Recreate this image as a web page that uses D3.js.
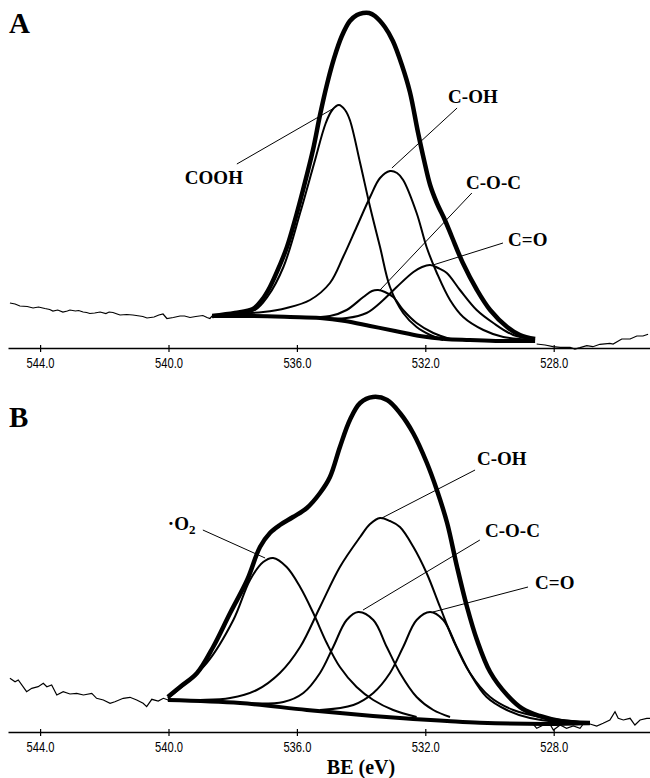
<!DOCTYPE html>
<html>
<head>
<meta charset="utf-8">
<script src="https://cdn.jsdelivr.net/npm/d3@7"></script>
<style>
  body { margin: 0; background: #fff; }
  svg { display: block; }
</style>
</head>
<body>
<div id="chart"></div>
<script>
  //=========================================================================
  // Data: binding energy (eV), intensity (a.u.)
  //=========================================================================

  const tickValues = [544, 540, 536, 532, 528];

  // ---- panel A ----
  const aRawLeft = [[544.94,45],[544.78,44],[544.63,42],[544.40,41.5],[544.22,40],[544.05,41],[543.85,39.5],
    [543.70,38.5],[543.60,37],[543.45,38],[543.29,36],[543.15,37],[543.07,38],[542.90,37],[542.80,37.5],
    [542.66,36],[542.55,35.5],[542.45,34.5],[542.30,35],[542.13,36],[541.95,34.5],[541.85,36],[541.73,35.5],
    [541.60,34],[541.51,33],[541.30,33.5],[541.11,33],[540.90,32],[540.80,31.5],[540.67,30],[540.45,31],
    [540.30,33],[540.17,34],[540.05,29.5],[539.85,30.5],[539.64,32],[539.50,32],[539.33,30.5],[539.15,31.5],
    [538.93,32.5],[538.80,30.5],[538.71,29.5],[538.64,32]];
  const aRawRight = [[528.53,4],[528.27,3],[528.02,1.3],[527.80,0.7],[527.49,0.7],[527.34,-1],[527.18,0.3],
    [526.97,2.3],[526.78,1.3],[526.56,3.7],[526.25,4.7],[526.15,4],[525.88,9],[525.62,9],[525.41,12],
    [525.22,12],[525.06,13.7]];
  const aBackground = [[538.64,32],[537.46,32],[536.21,31],[535.28,30],[534.50,27],[533.72,22],[532.94,17],
    [532.17,12],[531.39,9],[530.61,8],[529.67,7],[528.58,7]];
  const aEnvelope = [[538.64,32],[537.93,35],[537.37,39],[537.09,48],[536.84,61],[536.53,83],[536.31,101],
    [536.06,128],[535.81,158],[535.50,198],[535.28,233],[535.06,264],[534.84,290],[534.60,312],[534.35,327],
    [534.13,333],[533.94,335],[533.75,335],[533.57,332],[533.26,321],[533.01,307],[532.73,283],[532.48,256],
    [532.23,216],[532.04,188],[531.85,163],[531.64,145],[531.39,128],[531.17,111],[530.83,85],[530.39,58],
    [529.98,38],[529.45,21],[529.05,13],[528.58,9]];
  const aCOOH = [[538.64,32],[537.93,34],[537.30,38],[536.92,51],[536.42,81],[535.90,135],[535.46,185],
    [535.10,225],[534.90,238],[534.69,243],[534.50,238],[534.35,228],[534.03,185],[533.72,141],[533.41,101],
    [533.10,61],[532.69,35],[532.27,21],[531.85,13],[531.44,8]];
  const aCOH = [[538.64,33],[537.05,36],[536.32,40],[535.59,48],[534.97,65],[534.56,91],[534.14,121],
    [533.72,151],[533.41,170],[533.10,177],[532.88,175],[532.69,168],[532.27,135],[531.96,101],[531.64,75],
    [531.23,48],[530.82,31],[530.19,18],[529.57,11],[528.58,8]];
  const aCOC = [[536.21,31],[534.97,32],[534.45,38],[533.93,51],[533.66,57],[533.47,58],[533.26,56],
    [533.00,51],[532.69,38],[532.27,25],[531.75,15],[531.23,9]];
  const aCO = [[535.28,30],[534.45,30],[533.83,35],[533.31,48],[532.89,61],[532.37,76],[532.10,81],
    [531.85,83],[531.60,80],[531.33,75],[530.92,58],[530.40,38],[529.88,25],[529.26,13],[528.58,8.5]];

  // ---- panel B ----
  const bRawLeft = [[544.94,53.7],[544.78,50.3],[544.68,52],[544.42,40.3],[544.26,43.7],[544.06,45.3],
    [543.90,48.7],[543.79,45.3],[543.64,47],[543.48,37],[543.28,40.3],[543.07,38],[542.86,38.7],[542.65,37],
    [542.39,38.7],[542.24,33.7],[542.03,32],[541.82,28.7],[541.67,30.3],[541.41,33.7],[541.20,34.7],
    [540.99,32],[540.79,28.7],[540.68,25.3],[540.52,32.7],[540.32,31],[540.16,33.7],[540.01,32]];
  const bRawRight = [[528.64,8],[528.53,3.7],[528.32,7],[528.12,8],[528.01,2],[527.80,7],[527.60,3.7],
    [527.39,6],[527.18,3.7],[527.08,8],[526.87,8],[526.66,6],[526.46,8.7],[526.25,12],[526.09,20.3],
    [525.99,13.7],[525.83,12],[525.62,13.7],[525.47,7],[525.31,12],[525.10,13.7],[525.00,13.7]];
  const bBackground = [[540.02,32],[537.77,29],[535.69,22],[533.63,16],[532.38,13],[531.32,11],
    [530.30,9.3],[528.21,8],[526.87,9]];
  const bEnvelope = [[540.02,35],[539.64,45],[539.11,59],[538.61,85],[538.08,119],[537.55,152],[537.15,185],
    [536.84,199],[536.53,207],[536.12,215],[535.69,224],[535.28,239],[534.97,255],[534.66,285],[534.35,312],
    [534.03,329],[533.63,335],[533.19,332],[532.79,319],[532.38,299],[531.95,269],[531.64,242],[531.32,209],
    [531.01,165],[530.70,125],[530.39,92],[529.98,60],[529.45,37],[528.96,23],[528.43,16],[527.80,11],
    [526.87,9]];
  const bO2 = [[540.02,34],[538.81,69],[537.98,112],[537.46,152],[537.05,170],[536.74,174],[536.32,165],
    [535.90,145],[535.49,119],[535.07,89],[534.66,65],[534.14,45],[533.62,32],[533.00,22],[532.27,15]];
  const bCOH = [[540.02,32],[539.02,32],[538.08,34],[537.25,42],[536.53,59],[535.90,85],[535.28,125],
    [534.66,165],[534.03,195],[533.72,208],[533.41,214],[533.10,211],[532.79,205],[532.37,185],[531.96,159],
    [531.54,125],[531.13,92],[530.61,59],[529.98,35],[529.26,22],[528.43,15],[526.87,9]];
  const bCOC = [[537.77,29],[536.42,30],[535.80,39],[535.28,59],[534.87,85],[534.45,112],[534.09,120],
    [533.62,112],[533.20,85],[532.79,59],[532.27,35],[531.75,22],[531.23,15]];
  const bCO = [[535.28,22],[534.24,27],[533.62,39],[533.10,59],[532.69,85],[532.27,112],[531.85,120],
    [531.44,112],[531.02,85],[530.61,59],[530.09,35],[529.46,22],[528.74,14],[527.80,10],[526.87,9]];

  // Peak labels: text start point and leader line [from, to] in data units
  const aLabels = [
    { text: "COOH",  at: [539.49, 164], from: [537.87, 184], to: [534.84, 240] },
    { text: "C-OH",  at: [531.29, 245], from: [531.01, 240], to: [533.04, 180] },
    { text: "C-O-C", at: [530.73, 159], from: [530.55, 155], to: [533.41, 58] },
    { text: "C=O",   at: [529.42, 102], from: [529.58, 105], to: [531.76, 83] }
  ];
  const bLabels = [
    { text: "·O",    sub: "2", at: [540.02, 202], from: [538.93, 202], to: [536.99, 174] },
    { text: "C-OH",  at: [530.39, 267], from: [530.45, 262], to: [533.35, 214] },
    { text: "C-O-C", at: [530.14, 195], from: [530.30, 192], to: [533.94, 122] },
    { text: "C=O",   at: [528.58, 143], from: [528.80, 145], to: [531.76, 120] }
  ];

  //=========================================================================
  // Dimensions
  //=========================================================================

  var width = 650,
      height = 778;

  var svg = d3.select("#chart")
    .append("svg")
    .attr("width", width)
    .attr("height", height);

  var x = d3.scaleLinear()
    .domain([545, 525])
    .range([8, 650]);

  var y = d3.scaleLinear()
    .domain([0, 340])
    .range([0, -340]);

  var serif = "'Liberation Serif', 'Times New Roman', serif";

  var line = d3.line()
    .x(d => x(d[0]))
    .y(d => y(d[1]))
    .curve(d3.curveCatmullRom.alpha(0.5));

  var rawLine = d3.line()
    .x(d => x(d[0]))
    .y(d => y(d[1]));

  //=========================================================================
  // Panel
  //=========================================================================

  function drawPanel(axisY, letter, letterY, series, labels){

    var g = svg.append("g")
      .attr("transform", `translate(0,${axisY})`);

    // axis
    var axis = g.append("g")
      .call(d3.axisBottom(x)
        .tickValues(tickValues)
        .tickFormat(d3.format(".1f"))
        .tickSizeOuter(0)
        .tickSizeInner(4)
        .tickPadding(6));
    axis.select(".domain").attr("stroke", "#000").attr("stroke-width", 1.6);
    axis.selectAll(".tick line").attr("y1", -3).attr("stroke", "#000").attr("stroke-width", 1.2);
    axis.selectAll(".tick text")
      .attr("fill", "#000")
      .attr("textLength", 28)
      .attr("lengthAdjust", "spacingAndGlyphs")
      .style("font-family", "'Liberation Sans Narrow', 'Arial Narrow', 'Liberation Sans', sans-serif")
      .style("font-size", "14px");

    // raw spectrum
    series.raw.forEach(r => {
      g.append("path")
        .datum(r)
        .attr("d", rawLine)
        .attr("fill", "none")
        .attr("stroke", "#000")
        .attr("stroke-width", 1.2);
    });

    // components
    series.components.forEach(c => {
      g.append("path")
        .datum(c)
        .attr("d", line)
        .attr("fill", "none")
        .attr("stroke", "#000")
        .attr("stroke-width", 2);
    });

    // background and envelope
    g.append("path")
      .datum(series.background)
      .attr("d", line)
      .attr("fill", "none")
      .attr("stroke", "#000")
      .attr("stroke-width", 4);

    g.append("path")
      .datum(series.envelope)
      .attr("d", line)
      .attr("fill", "none")
      .attr("stroke", "#000")
      .attr("stroke-width", 4.5)
      .attr("stroke-linejoin", "round");

    // leader lines and labels
    labels.forEach(l => {
      g.append("line")
        .attr("x1", x(l.from[0])).attr("y1", y(l.from[1]))
        .attr("x2", x(l.to[0])).attr("y2", y(l.to[1]))
        .attr("stroke", "#000")
        .attr("stroke-width", 1);

      var t = g.append("text")
        .attr("x", x(l.at[0]))
        .attr("y", y(l.at[1]))
        .style("font-family", serif)
        .style("font-weight", "bold")
        .style("font-size", "19px")
        .text(l.text);
      if (l.sub) {
        t.append("tspan")
          .attr("dy", 4)
          .style("font-size", "13px")
          .text(l.sub);
      }
    });

    // panel letter
    svg.append("text")
      .attr("x", 9)
      .attr("y", letterY)
      .style("font-family", serif)
      .style("font-weight", "bold")
      .style("font-size", "29px")
      .text(letter);
  }

  drawPanel(348, "A", 33, {
    raw: [aRawLeft, aRawRight],
    components: [aCOOH, aCOH, aCOC, aCO],
    background: aBackground,
    envelope: aEnvelope
  }, aLabels);

  drawPanel(732, "B", 427, {
    raw: [bRawLeft, bRawRight],
    components: [bO2, bCOH, bCOC, bCO],
    background: bBackground,
    envelope: bEnvelope
  }, bLabels);

  // x-axis title
  svg.append("text")
    .attr("x", 361)
    .attr("y", 774)
    .attr("text-anchor", "middle")
    .style("font-family", serif)
    .style("font-weight", "bold")
    .style("font-size", "20px")
    .text("BE (eV)");
</script>
</body>
</html>
